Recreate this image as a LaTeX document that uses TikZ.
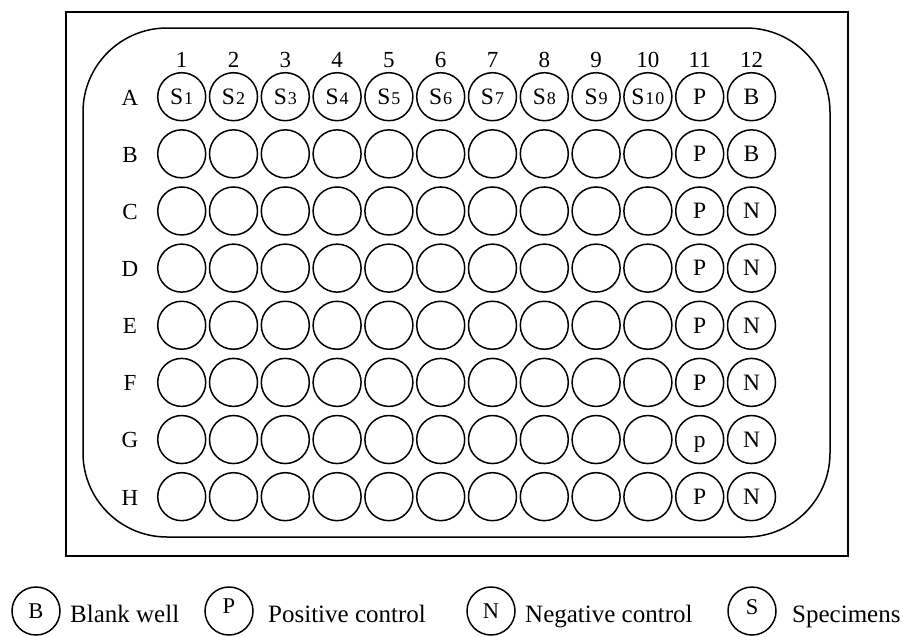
\documentclass[tikz,border=0pt]{standalone}
\usepackage{fontspec}
\setmainfont{Liberation Serif}
\newfontfamily\subdigits[LetterSpace=6]{Liberation Serif}
\newcommand{\wsub}[1]{\kern1pt{\subdigits\fontsize{18}{18}\selectfont #1}}
\begin{document}
\begin{tikzpicture}[x=1pt,y=-1pt,
  frame/.style={draw,line width=1.5pt},
  well/.style={circle,draw,line width=1.5pt,minimum size=48pt,inner sep=0pt,
    font=\fontsize{23.5}{23.5}\selectfont,text height=15.5pt,text depth=0pt},
  axislbl/.style={font=\fontsize{23}{23}\selectfont,inner sep=0pt},
  legwell/.style={circle,draw,line width=1.5pt,minimum size=48pt,inner sep=0pt,
    font=\fontsize{22.5}{22.5}\selectfont,text height=14.9pt,text depth=0pt},
  legtext/.style={font=\fontsize{25}{25}\selectfont,inner sep=0pt,anchor=base west}]
\useasboundingbox (0,0) rectangle (903,637);
% plate
\draw[frame] (66,12) rectangle (848,556);
\draw[frame,rounded corners=84pt] (83,28) rectangle (830,537);
% column numbers
\foreach \c in {1,...,12}
  \node[axislbl,anchor=base] (col\c) at ({181.7+(\c-1)*51.8},67) {\c};
% row letters
\foreach \r/\rl in {1/A,2/B,3/C,4/D,5/E,6/F,7/G,8/H}
  \node[axislbl,text height=15.2pt,text depth=0pt] (row\r) at (130,{97.5+(\r-1)*57.14}) {\rl};
% specimen wells in row A
\foreach \c in {1,...,10}
  \node[well] (w1-\c) at ({181.7+(\c-1)*51.8},96.7) {S\wsub{\c}};
% empty wells
\foreach \r in {2,...,8}
  \foreach \c in {1,...,10}
    \node[well] (w\r-\c) at ({181.7+(\c-1)*51.8},{96.7+(\r-1)*57.14}) {};
% column 11
\foreach \r/\t in {1/P,2/P,3/P,4/P,5/P,6/P,7/p,8/P}
  \node[well] (w\r-11) at ({181.7+10*51.8},{96.7+(\r-1)*57.14}) {\t};
% column 12
\foreach \r/\t in {1/B,2/B,3/N,4/N,5/N,6/N,7/N,8/N}
  \node[well] (w\r-12) at ({181.7+11*51.8},{96.7+(\r-1)*57.14}) {\t};
% legend
\node[legwell] (legB) at (36,611) {B};
\node[legtext] (legBt) at (70,622) {Blank well};
\node[legwell,text depth=9pt] (legP) at (229,611) {P};
\node[legtext] (legPt) at (268,622) {Positive control};
\node[legwell] (legN) at (491,611) {N};
\node[legtext] (legNt) at (525,622) {Negative control};
\node[legwell,text depth=8pt] (legS) at (752,611) {S};
\node[legtext] (legSt) at (792,622) {Specimens};
\end{tikzpicture}
\end{document}
